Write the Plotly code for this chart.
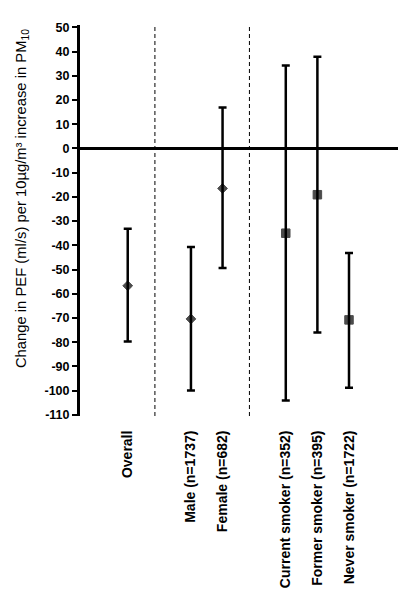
import plotly.graph_objects as go

# estimated effects (ml/s) with 95% CI
groups = ["Overall", "Male (n=1737)", "Female (n=682)",
          "Current smoker (n=352)", "Former smoker (n=395)", "Never smoker (n=1722)"]
positions = [1, 3, 4, 6, 7, 8]
estimate = [-56.7, -70.4, -16.5, -35.0, -19.1, -70.8]
ci_low = [-79.7, -100.0, -49.4, -104.1, -76.0, -98.8]
ci_high = [-33.2, -40.7, 16.9, 34.3, 37.9, -43.2]
symbols = ["diamond", "diamond", "diamond", "square", "square", "square"]
sizes = [7.5, 7.5, 7.5, 8.5, 8.5, 8.5]
separators = [1.86, 4.85]
y_ticks = list(range(-110, 51, 10))

font_family = "Arial, Liberation Sans, sans-serif"

fig = go.Figure()
fig.add_trace(go.Scatter(
    x=positions, y=estimate, mode="markers",
    marker=dict(symbol=symbols, size=sizes, color="black",
                line=dict(color="black", width=1)),
    error_y=dict(type="data", symmetric=False,
                 array=[h - e for h, e in zip(ci_high, estimate)],
                 arrayminus=[e - l for e, l in zip(estimate, ci_low)],
                 color="black", thickness=2.5, width=4),
    hoverinfo="skip", showlegend=False,
))

# dashed group separators
for xs in separators:
    fig.add_shape(type="line", xref="x", yref="y", x0=xs, x1=xs, y0=-110.5, y1=52,
                  line=dict(color="black", width=1, dash="4px,3px"))

# y title as annotation so it sits where the original has it
fig.add_annotation(
    text="Change in PEF (ml/s) per 10µg/m³ increase in PM<sub>10</sub>",
    xref="paper", yref="paper", x=-0.182, y=0.555, textangle=-90,
    xanchor="center", yanchor="middle", showarrow=False,
    font=dict(size=14.8, family=font_family, color="black"),
)

fig.update_layout(
    width=408, height=597,
    margin=dict(l=72, r=18, t=17, b=189),
    plot_bgcolor="white", paper_bgcolor="white",
    font=dict(family=font_family, color="black"),
)
fig.update_xaxes(
    range=[-0.51, 9.55],
    tickvals=positions, ticktext=groups, tickangle=-90,
    ticks="outside", ticklen=8, tickcolor="rgba(0,0,0,0)",
    tickfont=dict(size=14, family=font_family, weight="bold"),
    showgrid=False, zeroline=False, showline=False,
)
fig.update_yaxes(
    range=[-110.5, 51],
    tickvals=y_ticks, ticktext=[str(v) for v in y_ticks],
    ticks="outside", ticklen=5, tickwidth=2, tickcolor="black",
    tickfont=dict(size=12.5, family=font_family, weight="bold"),
    showline=True, linewidth=3, linecolor="black",
    showgrid=False, zeroline=True, zerolinewidth=2.5, zerolinecolor="black",
)

fig.write_html("out.html")
